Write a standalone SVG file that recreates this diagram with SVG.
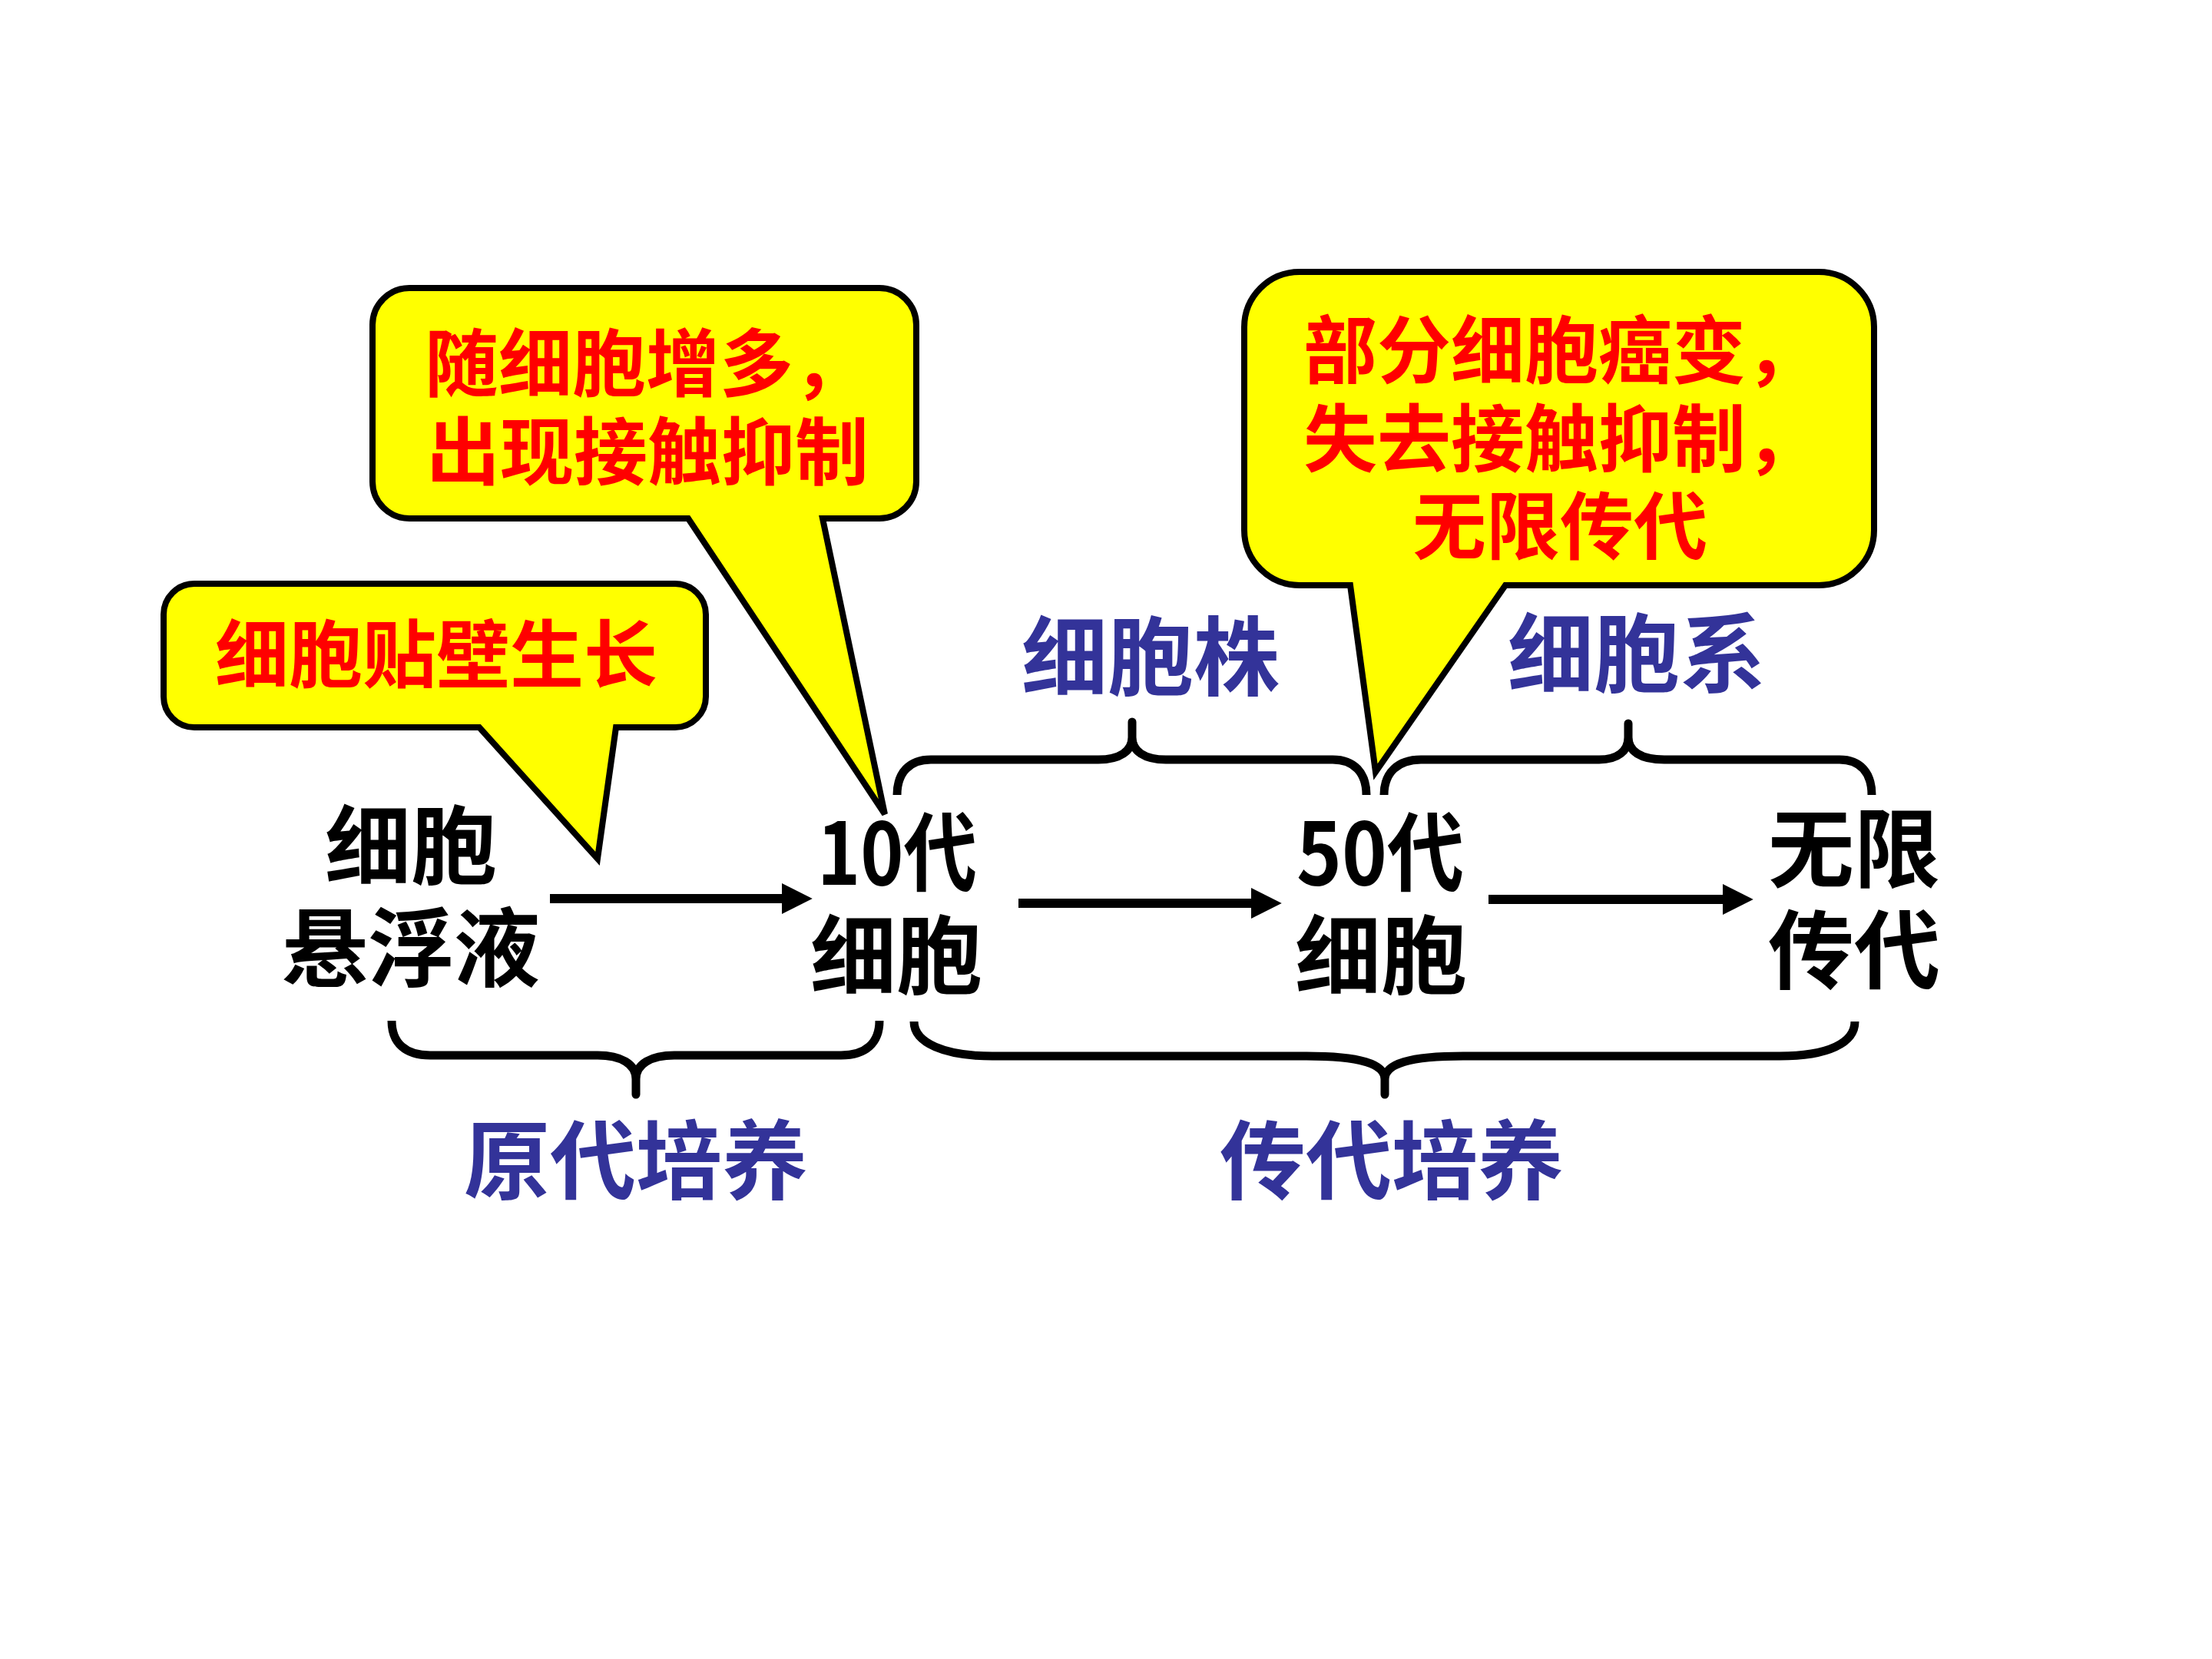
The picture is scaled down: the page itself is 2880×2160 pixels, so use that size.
<svg xmlns="http://www.w3.org/2000/svg" width="2880" height="2160" viewBox="0 0 2880 2160">
<style>
text{font-family:"Noto Sans CJK SC","Noto Sans CJK JP",sans-serif;font-weight:bold;}
.blk{fill:#000;font-size:112px;text-anchor:middle;}
.blue{fill:#333399;font-size:112px;text-anchor:middle;}
.red{fill:#FF0000;font-size:96px;}
.callout{fill:#FFFF00;stroke:#000;stroke-width:8;stroke-linejoin:miter;}
.brace{fill:none;stroke:#000;stroke-width:11;stroke-linejoin:round;stroke-linecap:butt;}
.arrow{stroke:#000;stroke-width:12;fill:none;}
</style>
<defs>
<marker id="ah" markerUnits="userSpaceOnUse" markerWidth="40" markerHeight="40" viewBox="0 0 36 36" refX="2" refY="18" orient="auto">
<path d="M0,0 L36,18 L0,36 Z" fill="#000"/>
</marker>
</defs>
<rect width="2880" height="2160" fill="#fff"/>

<g id="connectors">
<line class="arrow" x1="716" y1="1170" x2="1020" y2="1170" marker-end="url(#ah)"/>
<line class="arrow" x1="1326" y1="1176" x2="1631" y2="1176" marker-end="url(#ah)"/>
<line class="arrow" x1="1938" y1="1171" x2="2245" y2="1171" marker-end="url(#ah)"/>
<path class="brace" d="M 1168 1035 C 1168 1006 1184 989 1212 989 H 1430 C 1458 989 1474 978 1474 960 V 940 V 960 C 1474 978 1490 989 1518 989 H 1735 C 1763 989 1779 1006 1779 1035"/>
<path class="brace" d="M 1802 1035 C 1802 1006 1820 989 1850 989 H 2082 C 2106 989 2120 978 2120 960 V 942 V 960 C 2120 978 2136 989 2167 989 H 2395 C 2422 989 2437 1006 2437 1035"/>
<path class="brace" d="M 510 1329 C 510 1358 528 1374 560 1374 H 778 C 808 1374 828 1385 828 1405 V 1425 V 1405 C 828 1385 848 1374 878 1374 H 1095 C 1127 1374 1145 1358 1145 1329"/>
<path class="brace" d="M 1190 1330 C 1190 1358 1230 1375 1292 1375 H 1701 C 1770 1375 1803 1385 1803 1405 V 1425 V 1405 C 1803 1385 1836 1375 1905 1375 H 2317 C 2380 1375 2415 1358 2415 1330"/>
</g>

<g id="node-suspension">
<text class="blk"><tspan x="535" y="1143">细胞</tspan><tspan x="535" y="1276">悬浮液</tspan></text>
</g>
<g id="node-10">
<text class="blk"><tspan x="1168" y="1152" textLength="208" lengthAdjust="spacingAndGlyphs">10代</tspan><tspan x="1167" y="1286">细胞</tspan></text>
</g>
<g id="node-50">
<text class="blk"><tspan x="1797" y="1152" textLength="218" lengthAdjust="spacingAndGlyphs">50代</tspan><tspan x="1798" y="1286">细胞</tspan></text>
</g>
<g id="node-infinite">
<text class="blk"><tspan x="2414" y="1147">无限</tspan><tspan x="2414" y="1279">传代</tspan></text>
</g>

<g id="label-cellstrain"><text class="blue" x="1498" y="897">细胞株</text></g>
<g id="label-cellline"><text class="blue" x="2131" y="893">细胞系</text></g>
<g id="label-primary"><text class="blue" x="828" y="1553">原代培养</text></g>
<g id="label-subculture"><text class="blue" x="1812" y="1553">传代培养</text></g>

<g id="callout-adherent">
<path class="callout" d="M 253 760 H 879 A 40 40 0 0 1 919 800 V 907 A 40 40 0 0 1 879 947 H 802 L 778 1118 L 624 947 H 253 A 40 40 0 0 1 213 907 V 800 A 40 40 0 0 1 253 760 Z"/>
<text class="red" x="568" y="887" text-anchor="middle">细胞贴壁生长</text>
</g>
<g id="callout-contact">
<path class="callout" d="M 533 375 H 1145 A 48 48 0 0 1 1193 423 V 627 A 48 48 0 0 1 1145 675 H 1071 L 1152 1060 L 896 675 H 533 A 48 48 0 0 1 485 627 V 423 A 48 48 0 0 1 533 375 Z"/>
<text class="red"><tspan x="553" y="508">随细胞增多，</tspan><tspan x="555" y="623">出现接触抑制</tspan></text>
</g>
<g id="callout-cancer">
<path class="callout" d="M 1692 354 H 2368 A 72 72 0 0 1 2440 426 V 690 A 72 72 0 0 1 2368 762 H 1960 L 1791 1005 L 1758 762 H 1692 A 72 72 0 0 1 1620 690 V 426 A 72 72 0 0 1 1692 354 Z"/>
<text class="red" text-anchor="middle"><tspan x="2033" y="491">部分细胞癌变，</tspan><tspan x="2033" y="606">失去接触抑制，</tspan><tspan x="2031" y="720">无限传代</tspan></text>
</g>
</svg>
